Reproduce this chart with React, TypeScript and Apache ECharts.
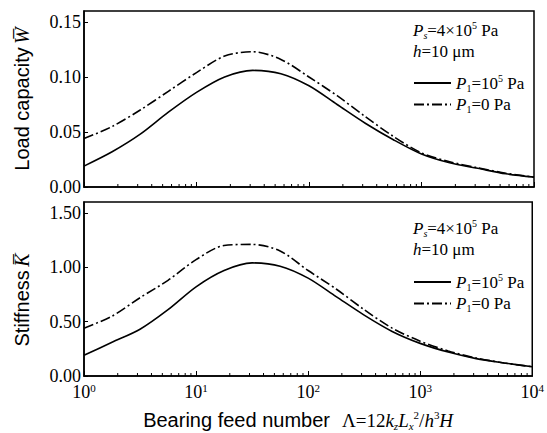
import React, { useEffect, useRef } from "react";
import * as echarts from "echarts";

// Bearing feed number values (x, log axis)
const LAMBDA = [1, 1.778, 3.162, 5.623, 10, 17.78, 31.62, 56.23, 100, 177.8, 316.2, 562.3, 1000, 1778, 3162, 5623, 10000];
// Load capacity W
const W_P1_1E5 = [0.019, 0.032, 0.048, 0.068, 0.086, 0.100, 0.106, 0.103, 0.092, 0.075, 0.058, 0.043, 0.030, 0.022, 0.017, 0.012, 0.009];
const W_P1_0 = [0.044, 0.055, 0.070, 0.087, 0.104, 0.119, 0.123, 0.116, 0.100, 0.083, 0.064, 0.046, 0.031, 0.023, 0.0175, 0.0125, 0.009];
// Stiffness K
const K_P1_1E5 = [0.19, 0.31, 0.43, 0.61, 0.82, 0.97, 1.04, 1.01, 0.90, 0.73, 0.56, 0.41, 0.30, 0.22, 0.16, 0.12, 0.085];
const K_P1_0 = [0.44, 0.55, 0.72, 0.88, 1.07, 1.20, 1.21, 1.15, 0.97, 0.80, 0.61, 0.44, 0.32, 0.23, 0.165, 0.12, 0.085];
// log-axis minor tick positions
const MINOR_TICKS = [2, 3, 4, 5, 6, 7, 8, 9, 20, 30, 40, 50, 60, 70, 80, 90, 200, 300, 400, 500, 600, 700, 800, 900, 2000, 3000, 4000, 5000, 6000, 7000, 8000, 9000];

const SERIES_SOLID = "P1=10^5 Pa";
const SERIES_DASH = "P1=0 Pa";

const SERIF = "Liberation Serif";
const SANS = "Liberation Sans";

const richBase = {
  n: { fontFamily: SERIF, fontSize: 17, color: "#000", lineHeight: 20 },
  i: { fontFamily: SERIF, fontSize: 17, fontStyle: "italic", color: "#000", lineHeight: 20 },
  sub: { fontFamily: SERIF, fontSize: 10, color: "#000", lineHeight: 10, verticalAlign: "bottom" },
  subi: { fontFamily: SERIF, fontSize: 10, fontStyle: "italic", color: "#000", lineHeight: 10, verticalAlign: "bottom" },
  sup: { fontFamily: SERIF, fontSize: 10, color: "#000", lineHeight: 10, verticalAlign: "top" },
};

function pairs(ys: number[]) {
  return LAMBDA.map((x, i) => [x, ys[i]]);
}

export default function App() {
  const ref = useRef<HTMLDivElement>(null);
  useEffect(() => {
    document.body.style.margin = "0";
    const chart = echarts.init(ref.current!, null, { renderer: "svg" });

    const xAxisCommon = (gridIndex: number, showLabel: boolean) => ({
      type: "log",
      logBase: 10,
      gridIndex,
      min: 1,
      max: 10000,
      axisLine: { lineStyle: { color: "#000", width: 1.5 } },
      axisTick: { inside: true, length: 5, lineStyle: { color: "#000" } },
      splitLine: { show: false },
      axisLabel: {
        show: showLabel,
        margin: 6,
        formatter: (v: number) => `{b|10}{s|${Math.round(Math.log10(v))}}`,
        rich: {
          b: { fontFamily: SERIF, fontSize: 18, color: "#000", lineHeight: 20 },
          s: { fontFamily: SERIF, fontSize: 11, color: "#000", lineHeight: 11, verticalAlign: "top" },
        },
      },
    });

    const yAxisCommon = (gridIndex: number, max: number, interval: number, name: string, rich: any) => ({
      type: "value",
      gridIndex,
      min: 0,
      max,
      interval,
      name,
      nameLocation: "middle",
      nameGap: 52,
      nameRotate: 90,
      nameTextStyle: { rich },
      axisLine: { lineStyle: { color: "#000", width: 1.5 } },
      axisTick: { inside: true, length: 4, lineStyle: { color: "#000" } },
      splitLine: { show: false },
      axisLabel: {
        margin: 3,
        showMaxLabel: false,
        fontFamily: SERIF,
        fontSize: 18,
        color: "#000",
        formatter: (v: number) => (Math.abs(v - max) < 1e-9 ? "" : v.toFixed(2)),
      },
    });

    const yNameRich = {
      sans: { fontFamily: SANS, fontSize: 20, color: "#000" },
      w: { fontFamily: SERIF, fontSize: 20, fontStyle: "italic", color: "#000" },
      gap: { fontSize: 20, width: 22 },
    };

    const lineSeries = (name: string, ys: number[], idx: number, dash: boolean) => ({
      name,
      type: "line",
      xAxisIndex: idx,
      yAxisIndex: idx,
      data: pairs(ys),
      smooth: 0.3,
      symbol: "none",
      showSymbol: false,
      lineStyle: { color: "#000", width: 1.6, type: dash ? [10, 3, 2, 3] : "solid" },
      itemStyle: { color: "#000" },
    });

    const minorSeries = (idx: number) => ({
      type: "custom",
      xAxisIndex: idx,
      yAxisIndex: idx,
      silent: true,
      data: MINOR_TICKS.map((t) => [t, 0]),
      renderItem: (_p: any, api: any) => {
        const p = api.coord([api.value(0), 0]);
        return {
          type: "line",
          shape: { x1: p[0], y1: p[1], x2: p[0], y2: p[1] - 3 },
          style: { stroke: "#000", lineWidth: 1 },
        };
      },
    });

    const legendFormatter = (name: string) =>
      name === SERIES_SOLID ? "{i|P}{sub|1}{n|=10}{sup|5}{n| Pa}" : "{i|P}{sub|1}{n|=0 Pa}";

    const legendCommon = (top: number) => ({
      orient: "vertical",
      left: 408,
      top,
      itemWidth: 37,
      itemHeight: 10,
      itemGap: 3,
      data: [SERIES_SOLID, SERIES_DASH],
      formatter: legendFormatter,
      textStyle: { rich: richBase },
      itemStyle: { opacity: 0, borderWidth: 0 },
      selectedMode: false,
    });

    const annot = (top: number) => [
      {
        type: "text",
        left: 413,
        top,
        style: { text: "{i|P}{subi|s}{n|=4×10}{sup|5}{n| Pa}", rich: richBase },
      },
      {
        type: "text",
        left: 413,
        top: top + 23,
        style: { text: "{i|h}{n|=10 μm}", rich: richBase },
      },
    ];

    chart.setOption({
      animation: false,
      backgroundColor: "#fff",
      grid: [
        { left: 84, right: 13, top: 11, height: 176, show: true, borderColor: "#000", borderWidth: 1.5 },
        { left: 84, right: 13, top: 202, height: 174, show: true, borderColor: "#000", borderWidth: 1.5 },
      ],
      xAxis: [
        xAxisCommon(0, false),
        {
          ...xAxisCommon(1, true),
          name: "{sans|Bearing feed number}{sp| }{n|Λ=12}{i|k}{sub|z}{i|L}{sub|x}{sup|2}{n|/}{i|h}{sup|3}{i|H}{gap| }",
          nameLocation: "middle",
          nameGap: 33,
          nameTextStyle: {
            rich: {
              sans: { fontFamily: SANS, fontSize: 20, color: "#000", lineHeight: 22 },
              sp: { fontFamily: SANS, fontSize: 20, width: 12 },
              gap: { fontFamily: SANS, fontSize: 20, width: 20 },
              n: { fontFamily: SERIF, fontSize: 19, color: "#000", lineHeight: 22 },
              i: { fontFamily: SERIF, fontSize: 19, fontStyle: "italic", color: "#000", lineHeight: 22 },
              sub: { fontFamily: SERIF, fontSize: 11, fontStyle: "italic", color: "#000", lineHeight: 11, verticalAlign: "bottom" },
              sup: { fontFamily: SERIF, fontSize: 11, color: "#000", lineHeight: 11, verticalAlign: "top" },
            },
          },
        },
      ],
      yAxis: [
        yAxisCommon(0, 0.16, 0.05, "{sans|Load capacity} {w|W\u0305}", yNameRich),
        yAxisCommon(1, 1.6, 0.5, "{sans|Stiffness} {w|K\u0305}{gap| }", yNameRich),
      ],
      legend: [legendCommon(68), legendCommon(267)],
      graphic: [...annot(20), ...annot(218)],
      series: [
        lineSeries(SERIES_SOLID, W_P1_1E5, 0, false),
        lineSeries(SERIES_DASH, W_P1_0, 0, true),
        lineSeries(SERIES_SOLID, K_P1_1E5, 1, false),
        lineSeries(SERIES_DASH, K_P1_0, 1, true),
        minorSeries(0),
        minorSeries(1),
      ],
    });
    return () => chart.dispose();
  }, []);
  return <div ref={ref} style={{ width: 547, height: 433, position: "fixed", left: 0, top: 0 }} />;
}
